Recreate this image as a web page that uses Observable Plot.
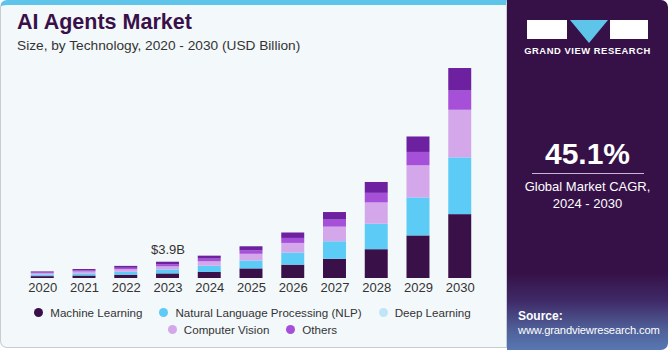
<!DOCTYPE html>
<html>
<head>
<meta charset="utf-8">
<script src="https://cdn.jsdelivr.net/npm/d3@7"></script>
<script src="https://cdn.jsdelivr.net/npm/@observablehq/plot@0.6"></script>
<style>
  html, body { margin: 0; padding: 0; background: #ffffff; }
  body { width: 670px; height: 350px; overflow: hidden; font-family: "Liberation Sans", Arial, sans-serif; }
  #wrap { position: relative; width: 670px; height: 350px; }
  #left { position: absolute; left: 0; top: 0; width: 507px; height: 348px; box-sizing: border-box;
          background: #f3f8fb; border: 1px solid #c9cdd1; border-top: 5px solid #5ec4ea; border-radius: 7px 0 0 7px; }
  #right { position: absolute; left: 507px; top: 0; width: 161px; height: 350px; border-radius: 0 7px 7px 0;
           background: linear-gradient(180deg, #361148 0%, #361148 78%, #3f2a67 86%, #4f5f98 94%, #5877b2 100%); overflow: hidden; }
  #title { position: absolute; left: 17px; top: 10px; font-size: 21.5px; font-weight: bold; color: #3a1049; }
  #subtitle { position: absolute; left: 17px; top: 38px; font-size: 13.7px; color: #333; }
  #chart { position: absolute; left: 0; top: 0; }
  .legrow { position: absolute; left: 0; width: 505px; display: flex; justify-content: center; gap: 17px; font-size: 11.6px; color: #333; }
  .item { display: flex; align-items: center; white-space: nowrap; }
  .dot { width: 9px; height: 9px; border-radius: 50%; margin-right: 7px; }
  .blk { position: absolute; background: #fff; }
  #gvr { position: absolute; left: 0; top: 45px; width: 161px; text-align: center; color: #fff; font-size: 9.4px; font-weight: bold; letter-spacing: 0.55px; white-space: nowrap; }
  #cagr { position: absolute; left: 0; top: 137px; width: 161px; text-align: center; color: #fff; font-size: 30px; font-weight: bold; }
  #rule { position: absolute; left: 25px; top: 173px; width: 112px; height: 1px; background: #c9b6d6; }
  #cagrtxt { position: absolute; left: 0; top: 178px; width: 161px; text-align: center; color: #fff; font-size: 13px; line-height: 17px; }
  #src { position: absolute; left: 11px; top: 309px; color: #fff; font-size: 11.2px; line-height: 14px; white-space: nowrap; letter-spacing: -0.15px; }
  #src b { font-size: 12px; letter-spacing: 0; }
</style>
</head>
<body>
<div id="wrap">
  <div id="left"></div>
  <div id="right">
    <div class="blk" style="left:20px;top:20px;width:40px;height:19px;"></div>
    <svg style="position:absolute;left:63px;top:20px;" width="38" height="24"><polygon points="0,0 38,0 19,23" fill="#5ec4ea"/></svg>
    <div class="blk" style="left:103px;top:20px;width:38px;height:19px;"></div>
    <div id="gvr">GRAND VIEW RESEARCH</div>
    <div id="cagr">45.1%</div>
    <div id="rule"></div>
    <div id="cagrtxt">Global Market CAGR,<br>2024 - 2030</div>
    <div id="src"><b>Source:</b><br>www.grandviewresearch.com</div>
  </div>
  <div id="title">AI Agents Market</div>
  <div id="subtitle">Size, by Technology, 2020 - 2030 (USD Billion)</div>
  <div id="chart"></div>
  <div class="legrow" id="leg1" style="top:306px;"></div>
  <div class="legrow" id="leg2" style="top:323px;"></div>
</div>
<script>
const years = ["2020", "2021", "2022", "2023", "2024", "2025", "2026", "2027", "2028", "2029", "2030"];
const machineLearning = [0.45, 0.60, 0.80, 1.10, 1.45, 2.30, 3.20, 4.60, 6.90, 10.2, 15.3];
const naturalLanguage = [0.37, 0.50, 0.70, 0.95, 1.50, 1.90, 2.90, 4.20, 6.10, 9.10, 13.6];
const deepLearning    = [0.32, 0.45, 0.60, 0.75, 1.05, 1.60, 2.30, 3.50, 5.10, 7.70, 11.4];
const computerVision  = [0.20, 0.27, 0.35, 0.50, 0.65, 0.80, 1.20, 1.70, 2.30, 3.20, 4.60];
const others          = [0.23, 0.33, 0.45, 0.60, 0.70, 1.00, 1.30, 1.80, 2.60, 3.70, 5.40];
const seriesNames = ["Machine Learning", "Natural Language Processing (NLP)", "Deep Learning", "Computer Vision", "Others"];
const barColors = ["#3a1049", "#5ccbf5", "#d4a7ea", "#a64fd8", "#6d20a0"];
const legendColors = ["#3a1049", "#5ccbf5", "#bfe5f7", "#d4a7ea", "#a64fd8"];
const annotationYear = "2023";
const annotationLabel = "$3.9B";

const seriesValues = [machineLearning, naturalLanguage, deepLearning, computerVision, others];
const data = years.flatMap((year, i) => seriesNames.map((s, j) => ({year, series: s, value: seriesValues[j][i]})));
const ai = years.indexOf(annotationYear);
const annotation = [{year: annotationYear, total: d3.sum(seriesValues, v => v[ai]), label: annotationLabel}];

const chart = Plot.plot({
  width: 505,
  height: 300,
  marginLeft: 12,
  marginRight: 15,
  marginTop: 48.4,
  marginBottom: 22,
  style: {background: "transparent", fontFamily: "Liberation Sans, Arial, sans-serif", fontSize: "13px", color: "#333"},
  x: {domain: years, padding: 0.45, round: false, label: null, tickSize: 0, tickPadding: 4},
  y: {domain: [0, 55], axis: null},
  color: {domain: seriesNames, range: barColors},
  marks: [
    Plot.barY(data, {x: "year", y: "value", fill: "series"}),
    Plot.text(annotation, {x: "year", y: "total", text: "label", dy: -8, lineAnchor: "bottom", fontSize: 13, fill: "#333"})
  ]
});
document.getElementById("chart").appendChild(chart);

function legendItem(i) {
  const it = document.createElement("div");
  it.className = "item";
  const dot = document.createElement("span");
  dot.className = "dot";
  dot.style.background = legendColors[i];
  it.appendChild(dot);
  it.appendChild(document.createTextNode(seriesNames[i]));
  return it;
}
[0, 1, 2].forEach(i => document.getElementById("leg1").appendChild(legendItem(i)));
[3, 4].forEach(i => document.getElementById("leg2").appendChild(legendItem(i)));
</script>
</body>
</html>
